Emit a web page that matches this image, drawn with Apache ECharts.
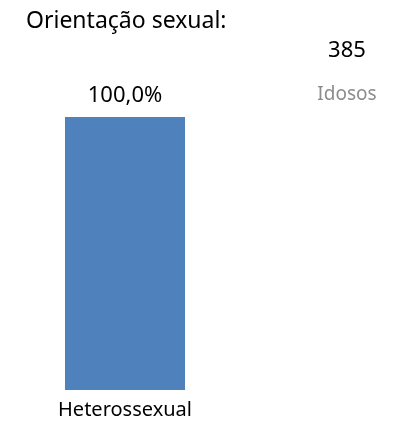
<!DOCTYPE html>
<html>
<head>
    <meta charset="UTF-8">
    <title></title>
    <style type="text/css">
        html, body { margin:0; padding:0; background:#fff; }
        #main1{ width:405px; height:428px; }
    </style>
    <script type="text/javascript" src="https://cdn.jsdelivr.net/npm/echarts@6/dist/echarts.min.js"></script>
</head>
<body>
<div id="main1"></div>
<script type="text/javascript">
    var categories = ['Heterossexual'];
    var percentValues = [100.0];
    var totalCount = '385';
    var groupName = 'Idosos';

    var myChart1 = echarts.init(document.getElementById('main1'));
    var option1 = {
        animation: false,
        textStyle: {fontFamily: 'Noto Sans'},
        title: [
            {text: 'Orientação sexual:', left: 21, top: 5,
                textStyle: {fontSize: 23, fontWeight: 'normal', color: '#000', fontFamily: 'Noto Sans'}},
            {text: totalCount, left: 342, top: 35, textAlign: 'center',
                textStyle: {fontSize: 22, fontWeight: 'normal', color: '#000', fontFamily: 'Noto Sans'}},
            {text: groupName, left: 342, top: 80, textAlign: 'center',
                textStyle: {fontSize: 19, fontWeight: 'normal', color: '#8c8c8c', fontFamily: 'Noto Sans'}}
        ],
        grid: {left: 40, width: 170, top: 117, bottom: 38},
        xAxis: {
            type: 'category',
            data: categories,
            axisLine: {show: false},
            axisTick: {show: false},
            axisLabel: {color: '#000', fontSize: 20, margin: 10, fontFamily: 'Noto Sans'}
        },
        yAxis: {
            type: 'value', min: 0, max: 100,
            show: false
        },
        series: [{
            type: 'bar',
            data: percentValues,
            barWidth: 120,
            itemStyle: {color: '#4f81bd'},
            label: {
                show: true, position: 'top', distance: 10,
                color: '#000', fontSize: 22, fontFamily: 'Noto Sans',
                formatter: function (p) { return p.value.toFixed(1).replace('.', ',') + '%'; }
            }
        }]
    };
    myChart1.setOption(option1);
</script>
</body>
</html>
